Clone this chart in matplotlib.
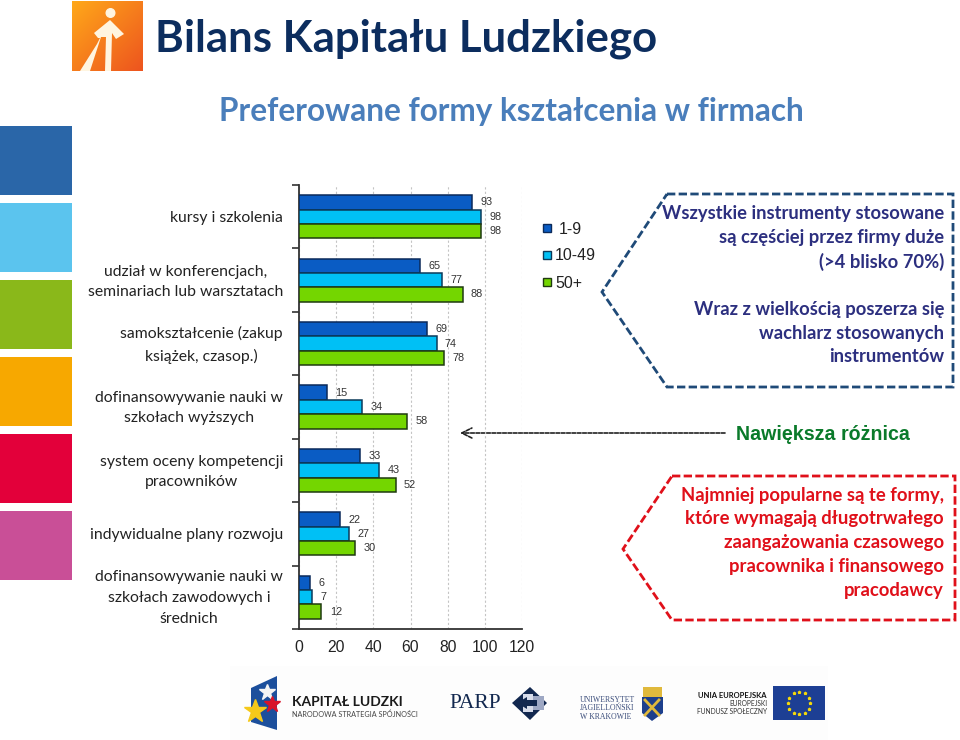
import numpy as np
import matplotlib
matplotlib.use('Agg')
import matplotlib.pyplot as plt
from matplotlib.patches import Polygon, Rectangle, Circle

categories = ['kursy i szkolenia',
              'udział w konferencjach,\nseminariach lub warsztatach',
              'samokształcenie (zakup\nksiążek, czasop.)',
              'dofinansowywanie nauki w\nszkołach wyższych',
              'system oceny kompetencji\npracowników',
              'indywidualne plany rozwoju',
              'dofinansowywanie nauki w\nszkołach zawodowych i\nśrednich']
small = [93, 65, 69, 15, 33, 22, 6]
medium = [98, 77, 74, 34, 43, 27, 7]
large = [98, 88, 78, 58, 52, 30, 12]
series_names = ['1-9', '10-49', '50+']
series_colors = ['#0a5cc4', '#00c0f5', '#74d600']
edge_colors = ['#0b2a5a', '#0b3a5a', '#1f3a10']
side_colors = ['#2a66a8', '#5bc4ee', '#8ab81a', '#f7a800', '#e3003a', '#c94f97']

plt.rcParams['font.family'] = ['Lato', 'DejaVu Sans']
W, H = 960, 740
fig = plt.figure(figsize=(9.6, 7.4), dpi=100)

# background layer in pixel coordinates
bg = fig.add_axes([0, 0, 1, 1])
bg.axis('off')

# orange logo
c1, c2 = np.array([1.0, 0.66, 0.1]), np.array([0.93, 0.33, 0.12])
xx, yy = np.meshgrid(np.linspace(0, 1, 71), np.linspace(0, 1, 70))
t = np.clip((xx + yy) / 2, 0, 1)[..., None]
bg.imshow(c1 * (1 - t) + c2 * t, extent=(72, 143, 71, 1), aspect='auto', zorder=1)
logo_white = '#fff5e0'
bg.add_patch(Circle((110.5, 13), 4.3, color=logo_white, zorder=2))
bg.add_patch(Polygon([(110, 20), (124, 34), (116, 39), (112, 33), (111, 71), (105, 71), (106, 37),
                      (101, 37), (90, 71), (80, 71), (97, 44), (100, 38), (98, 38), (94, 33)],
                     color=logo_white, lw=0, zorder=2))
bg.set_xlim(0, W)
bg.set_ylim(H, 0)

bg.text(155, 39, 'Bilans Kapitału Ludzkiego', fontsize=31.5, fontweight='bold',
        color='#0c2d5e', va='center', ha='left')
bg.text(511, 111, 'Preferowane formy kształcenia w firmach', fontsize=22.7, fontweight='bold',
        color='#4a7ebb', va='center', ha='center')

# colour blocks on the left
for i, col in enumerate(side_colors):
    bg.add_patch(Rectangle((0, 126 + 77 * i), 72, 69, color=col, lw=0))

# category labels
label_y = [218, 282, 345, 408, 472, 535, 598]
for y, lab in zip(label_y, categories):
    bg.text(283, y, lab, fontsize=11.3, ha='right', va='center', color='#222222',
            multialignment='center', linespacing=1.6)

# dashed callout top right
bg.add_patch(Polygon([(667, 194), (953, 194), (953, 387), (667, 387), (602, 292)], closed=True,
                     fill=False, ec='#1f4a78', lw=2, ls=(0, (3, 1.2))))
top_lines = ['Wszystkie instrumenty stosowane', 'są częściej przez firmy duże', '(>4 blisko 70%)',
             '', 'Wraz z wielkością poszerza się', 'wachlarz stosowanych', 'instrumentów']
for i, line in enumerate(top_lines):
    bg.text(944, 214 + 24 * i - (1 if i > 2 else 0), line, fontsize=13.2, fontweight='bold', color='#2c2f7f',
            ha='right', va='center')

# dashed callout bottom right
bg.add_patch(Polygon([(672, 476), (955, 476), (955, 620), (672, 620), (623, 549)], closed=True,
                     fill=False, ec='#e0101a', lw=2, ls=(0, (3, 1.2))))
bottom_lines = ['Najmniej popularne są te formy,', 'które wymagają długotrwałego',
                'zaangażowania czasowego', 'pracownika i finansowego', 'pracodawcy']
for i, line in enumerate(bottom_lines):
    bg.text(944, 495 + 23.8 * i, line, fontsize=13.3, fontweight='bold', color='#e0101a',
            ha='right', va='center')

# largest difference note
bg.annotate('', xy=(460, 433), xytext=(725, 433),
            arrowprops=dict(arrowstyle='->', ls=(0, (2.2, 1)), lw=1.2, color='#222222', mutation_scale=18,
                            shrinkA=0, shrinkB=0))
bg.text(736, 435, 'Nawiększa różnica', fontsize=14.1, fontweight='bold', color='#0a7a2a', ha='left', va='center',
        family=['Liberation Sans', 'DejaVu Sans'])

# legend squares
for i, (name, col, ec) in enumerate(zip(series_names, series_colors, edge_colors)):
    y = 228 + 27 * i
    bg.add_patch(Rectangle((543, y - 4), 8, 8, fc=col, ec=ec, lw=1))
    bg.text(555 + (4 if i == 0 else 0), y + 1, name, fontsize=11.5, ha='left', va='center', color='#222222',
            family=['Liberation Sans', 'DejaVu Sans'])

# footer band with logos
bg.add_patch(Rectangle((230, 666), 598, 74, color='#fdfdfd', lw=0))
bg.add_patch(Polygon([(251, 688), (277, 676), (277, 730), (251, 722)], color='#1c4f9c', lw=0))
bg.plot([267], [692], marker='*', ms=12, color='#f4f4f4')
bg.plot([272], [704], marker='*', ms=12, color='#d8142a')
bg.plot([255], [711], marker='*', ms=17, color='#f5c91a')
bg.text(292, 702, 'KAPITAŁ LUDZKI', fontsize=10, fontweight='bold', color='#1a1a1a', va='center')
bg.text(292, 714, 'NARODOWA STRATEGIA SPÓJNOŚCI', fontsize=5.2, color='#444444', va='center')
bg.text(449, 703, 'PARP', fontsize=15.5, color='#12284f', family=['Liberation Serif'], va='center')
bg.add_patch(Polygon([(512, 703), (530, 687), (547, 703), (530, 720)], color='#12284f', lw=0))
bg.add_patch(Rectangle((523, 694), 10, 18, color='#d7dcea', lw=0))
bg.add_patch(Rectangle((533, 696), 11, 14, color='#9ea8c4', lw=0))
bg.add_patch(Polygon([(517, 703), (527, 697), (527, 700), (537, 700), (537, 706), (527, 706), (527, 709)],
                     color='#12284f', lw=0))
for i, line in enumerate(['UNIWERSYTET', 'JAGIELLOŃSKI', 'W KRAKOWIE']):
    bg.text(580, 700 + 8.5 * i, line, fontsize=5.6, color='#3a4c7a', family=['Liberation Serif'], va='center')
bg.add_patch(Rectangle((643, 687), 19, 10, color='#e0b93c', lw=0))
bg.add_patch(Polygon([(642, 697), (663, 697), (663, 713), (652, 721), (642, 713)], color='#1d3f8c', lw=0))
bg.plot([645, 659], [700, 715], color='#e0b93c', lw=2)
bg.plot([659, 645], [700, 715], color='#e0b93c', lw=2)
bg.text(767, 695, 'UNIA EUROPEJSKA', fontsize=5.5, fontweight='bold', color='#111111', va='center', ha='right')
bg.text(767, 704, 'EUROPEJSKI', fontsize=4.8, color='#333333', va='center', ha='right')
bg.text(767, 712, 'FUNDUSZ SPOŁECZNY', fontsize=4.8, color='#333333', va='center', ha='right')
bg.add_patch(Rectangle((773, 686), 52, 34, color='#1d3f94', lw=0, zorder=2))
ang = np.arange(12) * np.pi / 6
bg.scatter(799 + 11 * np.cos(ang), 703 + 11 * np.sin(ang), s=3, color='#f5d90a', marker='*', zorder=3)

# bar chart: x 0..120 runs from px 299 to 522, y from px 185 to 629
ax = fig.add_axes([299 / W, 1 - 629 / H, (522 - 299) / W, (629 - 185) / H])
ax.patch.set_alpha(0)
y = np.arange(len(categories))
h = 0.226
for off, vals, col, ec in zip([-h, 0, h], [small, medium, large], series_colors, edge_colors):
    bars = ax.barh(y + off, vals, height=h, color=col, edgecolor=ec, linewidth=1.1, zorder=3)
    for b, v in zip(bars, vals):
        ax.text(v + 4.5, b.get_y() + h / 2, str(v), fontsize=7.8, va='center', ha='left', color='#333333',
                family=['Liberation Sans', 'DejaVu Sans'], zorder=4)

ax.set_ylim(6.5, -0.5)
ax.set_xlim(0, 120)
ax.set_xticks(range(0, 121, 20))
ax.set_yticks(np.arange(-0.5, 7, 1))
ax.set_yticklabels([])
ax.tick_params(axis='y', length=5, width=1.2, direction='out', color='#333333')
ax.tick_params(axis='x', length=0, pad=8, labelsize=11.3, labelcolor='#222222')
for lbl in ax.get_xticklabels():
    lbl.set_family(['Liberation Sans', 'DejaVu Sans'])
ax.xaxis.grid(True, ls=(0, (2, 2)), color='#c4c4c4', lw=0.8, zorder=0)
ax.set_axisbelow(True)
for s in ['top', 'right']:
    ax.spines[s].set_visible(False)
for s in ['left', 'bottom']:
    ax.spines[s].set_color('#333333')
    ax.spines[s].set_linewidth(1.3)

fig.savefig('out.png', dpi=100, facecolor='white')
